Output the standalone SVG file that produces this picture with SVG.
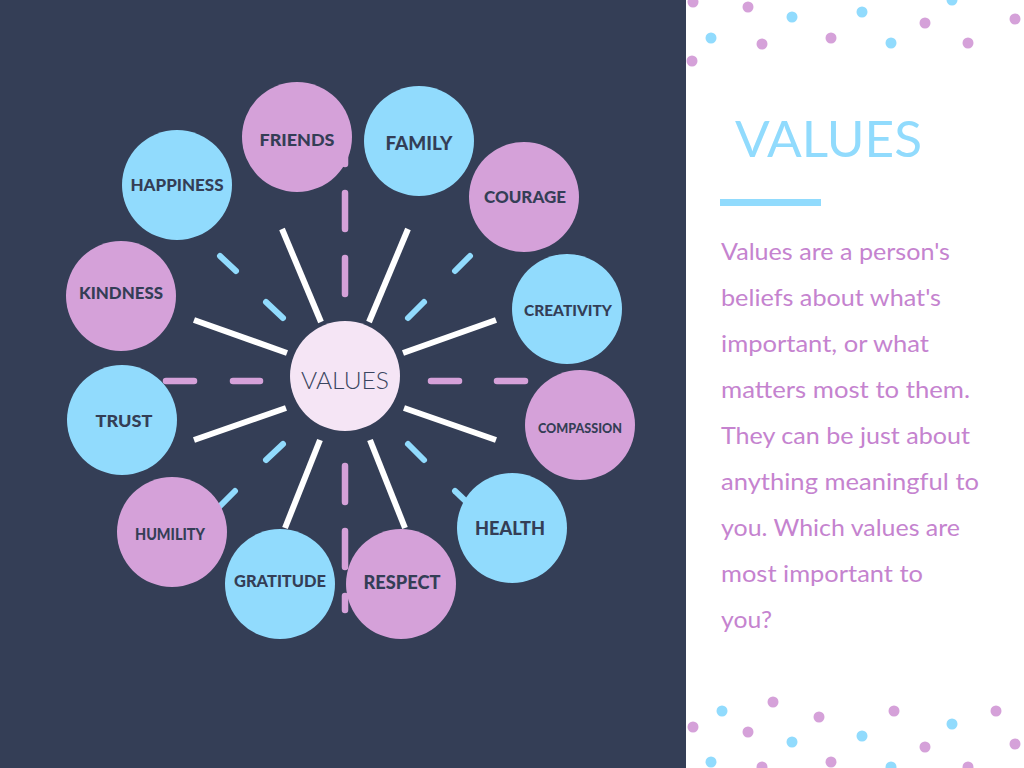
<svg xmlns="http://www.w3.org/2000/svg" width="1024" height="768" viewBox="0 0 1024 768">
<style>
.pk{fill:#d5a1d9}
.bl{fill:#91dbfd}
.dotp{fill:#d5a1d9}
.dotb{fill:#91dbfd}
.spoke{stroke:#ffffff;stroke-width:6;stroke-linecap:butt}
.bdash{stroke:#91dbfd;stroke-width:6;stroke-linecap:round}
.pdash{stroke:#d5a1d9;stroke-width:6.5;stroke-linecap:round}
.lbl{font-family:Lato,"Open Sans","Liberation Sans",sans-serif;font-weight:900;fill:#343e56;text-anchor:middle}
.body{font-family:Lato,"Open Sans","Liberation Sans",sans-serif;font-size:24px;fill:#c583cf}
</style>
<rect x="0" y="0" width="1024" height="768" fill="#ffffff"/>
<rect x="0" y="0" width="686" height="768" fill="#343e56"/>

<g id="connectors">
  <line class="spoke" x1="282" y1="229" x2="321" y2="322"/>
  <line class="spoke" x1="408" y1="229" x2="369" y2="322"/>
  <line class="spoke" x1="194" y1="320" x2="287" y2="353"/>
  <line class="spoke" x1="496" y1="320" x2="403" y2="353"/>
  <line class="spoke" x1="286" y1="408" x2="194" y2="440"/>
  <line class="spoke" x1="404" y1="408" x2="496" y2="440"/>
  <line class="spoke" x1="320" y1="440" x2="285" y2="528"/>
  <line class="spoke" x1="370" y1="440" x2="405" y2="528"/>
  <line class="bdash" x1="220" y1="256" x2="236" y2="271"/>
  <line class="bdash" x1="266" y1="302" x2="283" y2="318"/>
  <line class="bdash" x1="470" y1="256" x2="455" y2="271"/>
  <line class="bdash" x1="424" y1="302" x2="408" y2="318"/>
  <line class="bdash" x1="283" y1="444" x2="266" y2="460"/>
  <line class="bdash" x1="235" y1="491" x2="215" y2="511"/>
  <line class="bdash" x1="408" y1="444" x2="424" y2="460"/>
  <line class="bdash" x1="455" y1="491" x2="474" y2="509"/>
  <line class="pdash" x1="345" y1="128" x2="345" y2="164"/>
  <line class="pdash" x1="345" y1="193" x2="345" y2="229"/>
  <line class="pdash" x1="345" y1="258" x2="345" y2="294"/>
  <line class="pdash" x1="345" y1="466" x2="345" y2="502"/>
  <line class="pdash" x1="345" y1="531" x2="345" y2="567"/>
  <line class="pdash" x1="345" y1="596" x2="345" y2="610"/>
  <line class="pdash" x1="166" y1="381" x2="194" y2="381"/>
  <line class="pdash" x1="233" y1="381" x2="260" y2="381"/>
  <line class="pdash" x1="431" y1="381" x2="459" y2="381"/>
  <line class="pdash" x1="497" y1="381" x2="525" y2="381"/>
</g>

<g id="node-values">
  <circle cx="345" cy="376" r="55" fill="#f5e5f5"/>
  <text x="345" y="389" font-family="Lato,'Open Sans','Liberation Sans',sans-serif" font-size="23" font-weight="300" fill="#3b4560" text-anchor="middle" textLength="88" lengthAdjust="spacingAndGlyphs">VALUES</text>
</g>
<g id="node-friends"><circle class="pk" cx="297" cy="137" r="55"/><text class="lbl" x="297" y="146" font-size="17.5" textLength="75" lengthAdjust="spacingAndGlyphs">FRIENDS</text></g>
<g id="node-happiness"><circle class="bl" cx="177" cy="185" r="55"/><text class="lbl" x="177" y="191" font-size="17" textLength="93" lengthAdjust="spacingAndGlyphs">HAPPINESS</text></g>
<g id="node-family"><circle class="bl" cx="419" cy="141" r="55"/><text class="lbl" x="419" y="150" font-size="18" textLength="67" lengthAdjust="spacingAndGlyphs">FAMILY</text></g>
<g id="node-courage"><circle class="pk" cx="524" cy="197" r="55"/><text class="lbl" x="525" y="203" font-size="17.5" textLength="82" lengthAdjust="spacingAndGlyphs">COURAGE</text></g>
<g id="node-kindness"><circle class="pk" cx="121" cy="296" r="55"/><text class="lbl" x="121" y="299" font-size="17" textLength="84" lengthAdjust="spacingAndGlyphs">KINDNESS</text></g>
<g id="node-trust"><circle class="bl" cx="122" cy="420" r="55"/><text class="lbl" x="124" y="427" font-size="17.5" textLength="57" lengthAdjust="spacingAndGlyphs">TRUST</text></g>
<g id="node-creativity"><circle class="bl" cx="567" cy="309" r="55"/><text class="lbl" x="568" y="316" font-size="14.5" textLength="88" lengthAdjust="spacingAndGlyphs">CREATIVITY</text></g>
<g id="node-compassion"><circle class="pk" cx="580" cy="425" r="55"/><text class="lbl" x="580" y="433" font-size="13" textLength="84" lengthAdjust="spacingAndGlyphs">COMPASSION</text></g>
<g id="node-health"><circle class="bl" cx="512" cy="528" r="55"/><text class="lbl" x="510" y="535" font-size="18.5" textLength="70" lengthAdjust="spacingAndGlyphs">HEALTH</text></g>
<g id="node-humility"><circle class="pk" cx="172" cy="532" r="55"/><text class="lbl" x="170" y="540" font-size="16" textLength="70" lengthAdjust="spacingAndGlyphs">HUMILITY</text></g>
<g id="node-gratitude"><circle class="bl" cx="280" cy="584" r="55"/><text class="lbl" x="280" y="587" font-size="16.5" textLength="92" lengthAdjust="spacingAndGlyphs">GRATITUDE</text></g>
<g id="node-respect"><circle class="pk" cx="401" cy="584" r="55"/><text class="lbl" x="402" y="589" font-size="18" textLength="77" lengthAdjust="spacingAndGlyphs">RESPECT</text></g>

<g id="dots-top">
  <circle class="dotp" cx="693" cy="2" r="5.5"/>
  <circle class="dotp" cx="748" cy="7" r="5.5"/>
  <circle class="dotb" cx="792" cy="17" r="5.5"/>
  <circle class="dotb" cx="862" cy="12" r="5.5"/>
  <circle class="dotb" cx="952" cy="0" r="5.5"/>
  <circle class="dotp" cx="925" cy="23" r="5.5"/>
  <circle class="dotp" cx="1015" cy="19" r="5.5"/>
  <circle class="dotb" cx="711" cy="38" r="5.5"/>
  <circle class="dotp" cx="762" cy="44" r="5.5"/>
  <circle class="dotp" cx="831" cy="38" r="5.5"/>
  <circle class="dotb" cx="891" cy="43" r="5.5"/>
  <circle class="dotp" cx="968" cy="43" r="5.5"/>
  <circle class="dotp" cx="692" cy="61" r="5.5"/>
</g>
<g id="dots-bottom">
  <circle class="dotp" cx="773" cy="702" r="5.5"/>
  <circle class="dotb" cx="722" cy="711" r="5.5"/>
  <circle class="dotp" cx="819" cy="717" r="5.5"/>
  <circle class="dotp" cx="894" cy="711" r="5.5"/>
  <circle class="dotp" cx="996" cy="711" r="5.5"/>
  <circle class="dotp" cx="693" cy="727" r="5.5"/>
  <circle class="dotb" cx="952" cy="724" r="5.5"/>
  <circle class="dotp" cx="748" cy="732" r="5.5"/>
  <circle class="dotb" cx="792" cy="742" r="5.5"/>
  <circle class="dotb" cx="862" cy="736" r="5.5"/>
  <circle class="dotp" cx="925" cy="747" r="5.5"/>
  <circle class="dotp" cx="1015" cy="744" r="5.5"/>
  <circle class="dotb" cx="711" cy="762" r="5.5"/>
  <circle class="dotp" cx="762" cy="767" r="5.5"/>
  <circle class="dotp" cx="831" cy="762" r="5.5"/>
  <circle class="dotb" cx="891" cy="767" r="5.5"/>
  <circle class="dotp" cx="968" cy="767" r="5.5"/>
</g>

<g id="title">
  <text x="735" y="157" font-family="Lato,'Open Sans','Liberation Sans',sans-serif" font-size="50" font-weight="400" fill="#91dbfd" textLength="187" lengthAdjust="spacingAndGlyphs">VALUES</text>
  <rect x="720" y="199" width="101" height="7" fill="#91dbfd"/>
</g>

<g id="description">
  <text class="body" x="721" y="260" textLength="229" lengthAdjust="spacingAndGlyphs">Values are a person's</text>
  <text class="body" x="721" y="306" textLength="220" lengthAdjust="spacingAndGlyphs">beliefs about what's</text>
  <text class="body" x="721" y="352" textLength="208" lengthAdjust="spacingAndGlyphs">important, or what</text>
  <text class="body" x="721" y="398" textLength="249" lengthAdjust="spacingAndGlyphs">matters most to them.</text>
  <text class="body" x="721" y="444" textLength="249" lengthAdjust="spacingAndGlyphs">They can be just about</text>
  <text class="body" x="721" y="490" textLength="258" lengthAdjust="spacingAndGlyphs">anything meaningful to</text>
  <text class="body" x="721" y="536" textLength="239" lengthAdjust="spacingAndGlyphs">you. Which values are</text>
  <text class="body" x="721" y="582" textLength="202" lengthAdjust="spacingAndGlyphs">most important to</text>
  <text class="body" x="721" y="628" textLength="51" lengthAdjust="spacingAndGlyphs">you?</text>
</g>
</svg>
